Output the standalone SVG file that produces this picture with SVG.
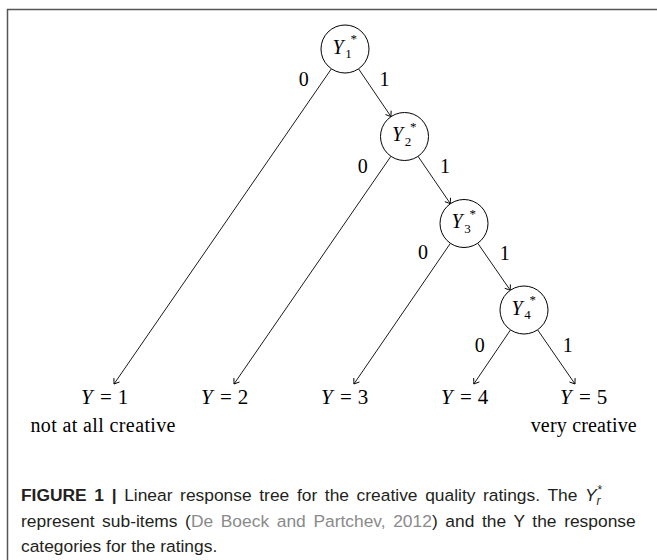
<svg xmlns="http://www.w3.org/2000/svg" width="657" height="560" viewBox="0 0 657 560">
<style>
.frame{stroke:#555;stroke-width:1.5;fill:none}
.node circle{fill:#fff;stroke:#000;stroke-width:1}
.edge{stroke:#000;stroke-width:0.9;fill:none;marker-end:url(#arr)}
.m{font-family:"Liberation Serif","Times New Roman",serif;font-size:20px;fill:#000}
.lf{font-size:21px}
.mi{font-style:italic}
.sm{font-size:13px}
.lbl{text-anchor:middle}
.cap{font-family:"Liberation Sans",Arial,sans-serif;font-size:17.4px;fill:#231f20}
.link{fill:#8a8a8a}
</style>
<defs>
<marker id="arr" markerUnits="userSpaceOnUse" markerWidth="10" markerHeight="10" refX="0" refY="0" viewBox="-6 -5 7 10" orient="auto" overflow="visible">
<path d="M-4.5,-3.2 Q-1.2,-0.8 0,0 Q-1.2,0.8 -4.5,3.2" fill="none" stroke="#000" stroke-width="0.9" stroke-linecap="round"/>
</marker>
</defs>
<rect width="657" height="560" fill="#fff"/>
<path class="frame" d="M7.5,560 V9.5 H657"/>

<g id="connectors">
<line class="edge" x1="331.4" y1="68.8" x2="114" y2="384"/>
<line class="edge" x1="358.5" y1="68.8" x2="391" y2="116.6"/>
<line class="edge" x1="390.9" y1="156.3" x2="234" y2="384"/>
<line class="edge" x1="418" y1="156.3" x2="450.4" y2="203.7"/>
<line class="edge" x1="450.4" y1="243.3" x2="353.9" y2="384"/>
<line class="edge" x1="477.7" y1="243.2" x2="510.3" y2="290.3"/>
<line class="edge" x1="510.5" y1="329.9" x2="473.8" y2="384"/>
<line class="edge" x1="537.6" y1="329.8" x2="575" y2="384"/>
<g id="edge-labels" class="m lbl">
<text x="303.7" y="86">0</text>
<text x="384.6" y="86">1</text>
<text x="362.8" y="172.5">0</text>
<text x="445" y="172.5">1</text>
<text x="423" y="259">0</text>
<text x="504.8" y="259.5">1</text>
<text x="479.7" y="352">0</text>
<text x="567.7" y="352">1</text>
</g>
</g>

<g id="Y1" class="node">
<circle cx="345" cy="49" r="24"/>
<text class="m"><tspan class="mi" x="332.5" y="53.5">Y</tspan><tspan class="sm" x="345.3" y="58">1</tspan><tspan class="sm" x="350.5" y="43">*</tspan></text>
</g>
<g id="Y2" class="node">
<circle cx="404.5" cy="136.5" r="24"/>
<text class="m"><tspan class="mi" x="392" y="141">Y</tspan><tspan class="sm" x="404.8" y="145.5">2</tspan><tspan class="sm" x="410" y="130.5">*</tspan></text>
</g>
<g id="Y3" class="node">
<circle cx="464" cy="223.5" r="24"/>
<text class="m"><tspan class="mi" x="451.5" y="228">Y</tspan><tspan class="sm" x="464.3" y="232.5">3</tspan><tspan class="sm" x="469.5" y="217.5">*</tspan></text>
</g>
<g id="Y4" class="node">
<circle cx="524" cy="310" r="24"/>
<text class="m"><tspan class="mi" x="511.5" y="314.5">Y</tspan><tspan class="sm" x="524.3" y="319">4</tspan><tspan class="sm" x="529.5" y="304">*</tspan></text>
</g>

<g id="L1" class="leaf">
<text class="m lf" y="403.5"><tspan class="mi" x="81">Y</tspan><tspan x="106" text-anchor="middle">=</tspan><tspan x="123" text-anchor="middle">1</tspan></text>
<text class="m lbl" x="103" y="432" textLength="145" lengthAdjust="spacing">not at all creative</text>
</g>
<g id="L2" class="leaf">
<text class="m lf" y="403.5"><tspan class="mi" x="201">Y</tspan><tspan x="226" text-anchor="middle">=</tspan><tspan x="243" text-anchor="middle">2</tspan></text>
</g>
<g id="L3" class="leaf">
<text class="m lf" y="403.5"><tspan class="mi" x="321">Y</tspan><tspan x="346" text-anchor="middle">=</tspan><tspan x="363" text-anchor="middle">3</tspan></text>
</g>
<g id="L4" class="leaf">
<text class="m lf" y="403.5"><tspan class="mi" x="441">Y</tspan><tspan x="466" text-anchor="middle">=</tspan><tspan x="483" text-anchor="middle">4</tspan></text>
</g>
<g id="L5" class="leaf">
<text class="m lf" y="403.5"><tspan class="mi" x="560">Y</tspan><tspan x="585" text-anchor="middle">=</tspan><tspan x="602" text-anchor="middle">5</tspan></text>
<text class="m lbl" x="583.7" y="432" textLength="106" lengthAdjust="spacing">very creative</text>
</g>

<g id="caption" class="cap">
<text y="501" word-spacing="2.8"><tspan x="21" font-weight="bold">FIGURE 1 |</tspan> Linear response tree for the creative quality ratings. The <tspan font-style="italic">Y</tspan><tspan font-style="italic" font-size="12px" dy="4">r</tspan><tspan font-size="12px" dx="-3" dy="-11">*</tspan></text>
<text x="21" y="526.5" word-spacing="2.8">represent sub-items (<tspan class="link">De Boeck and Partchev, 2012</tspan>) and the Y the response</text>
<text x="21" y="552">categories for the ratings.</text>
</g>
</svg>
